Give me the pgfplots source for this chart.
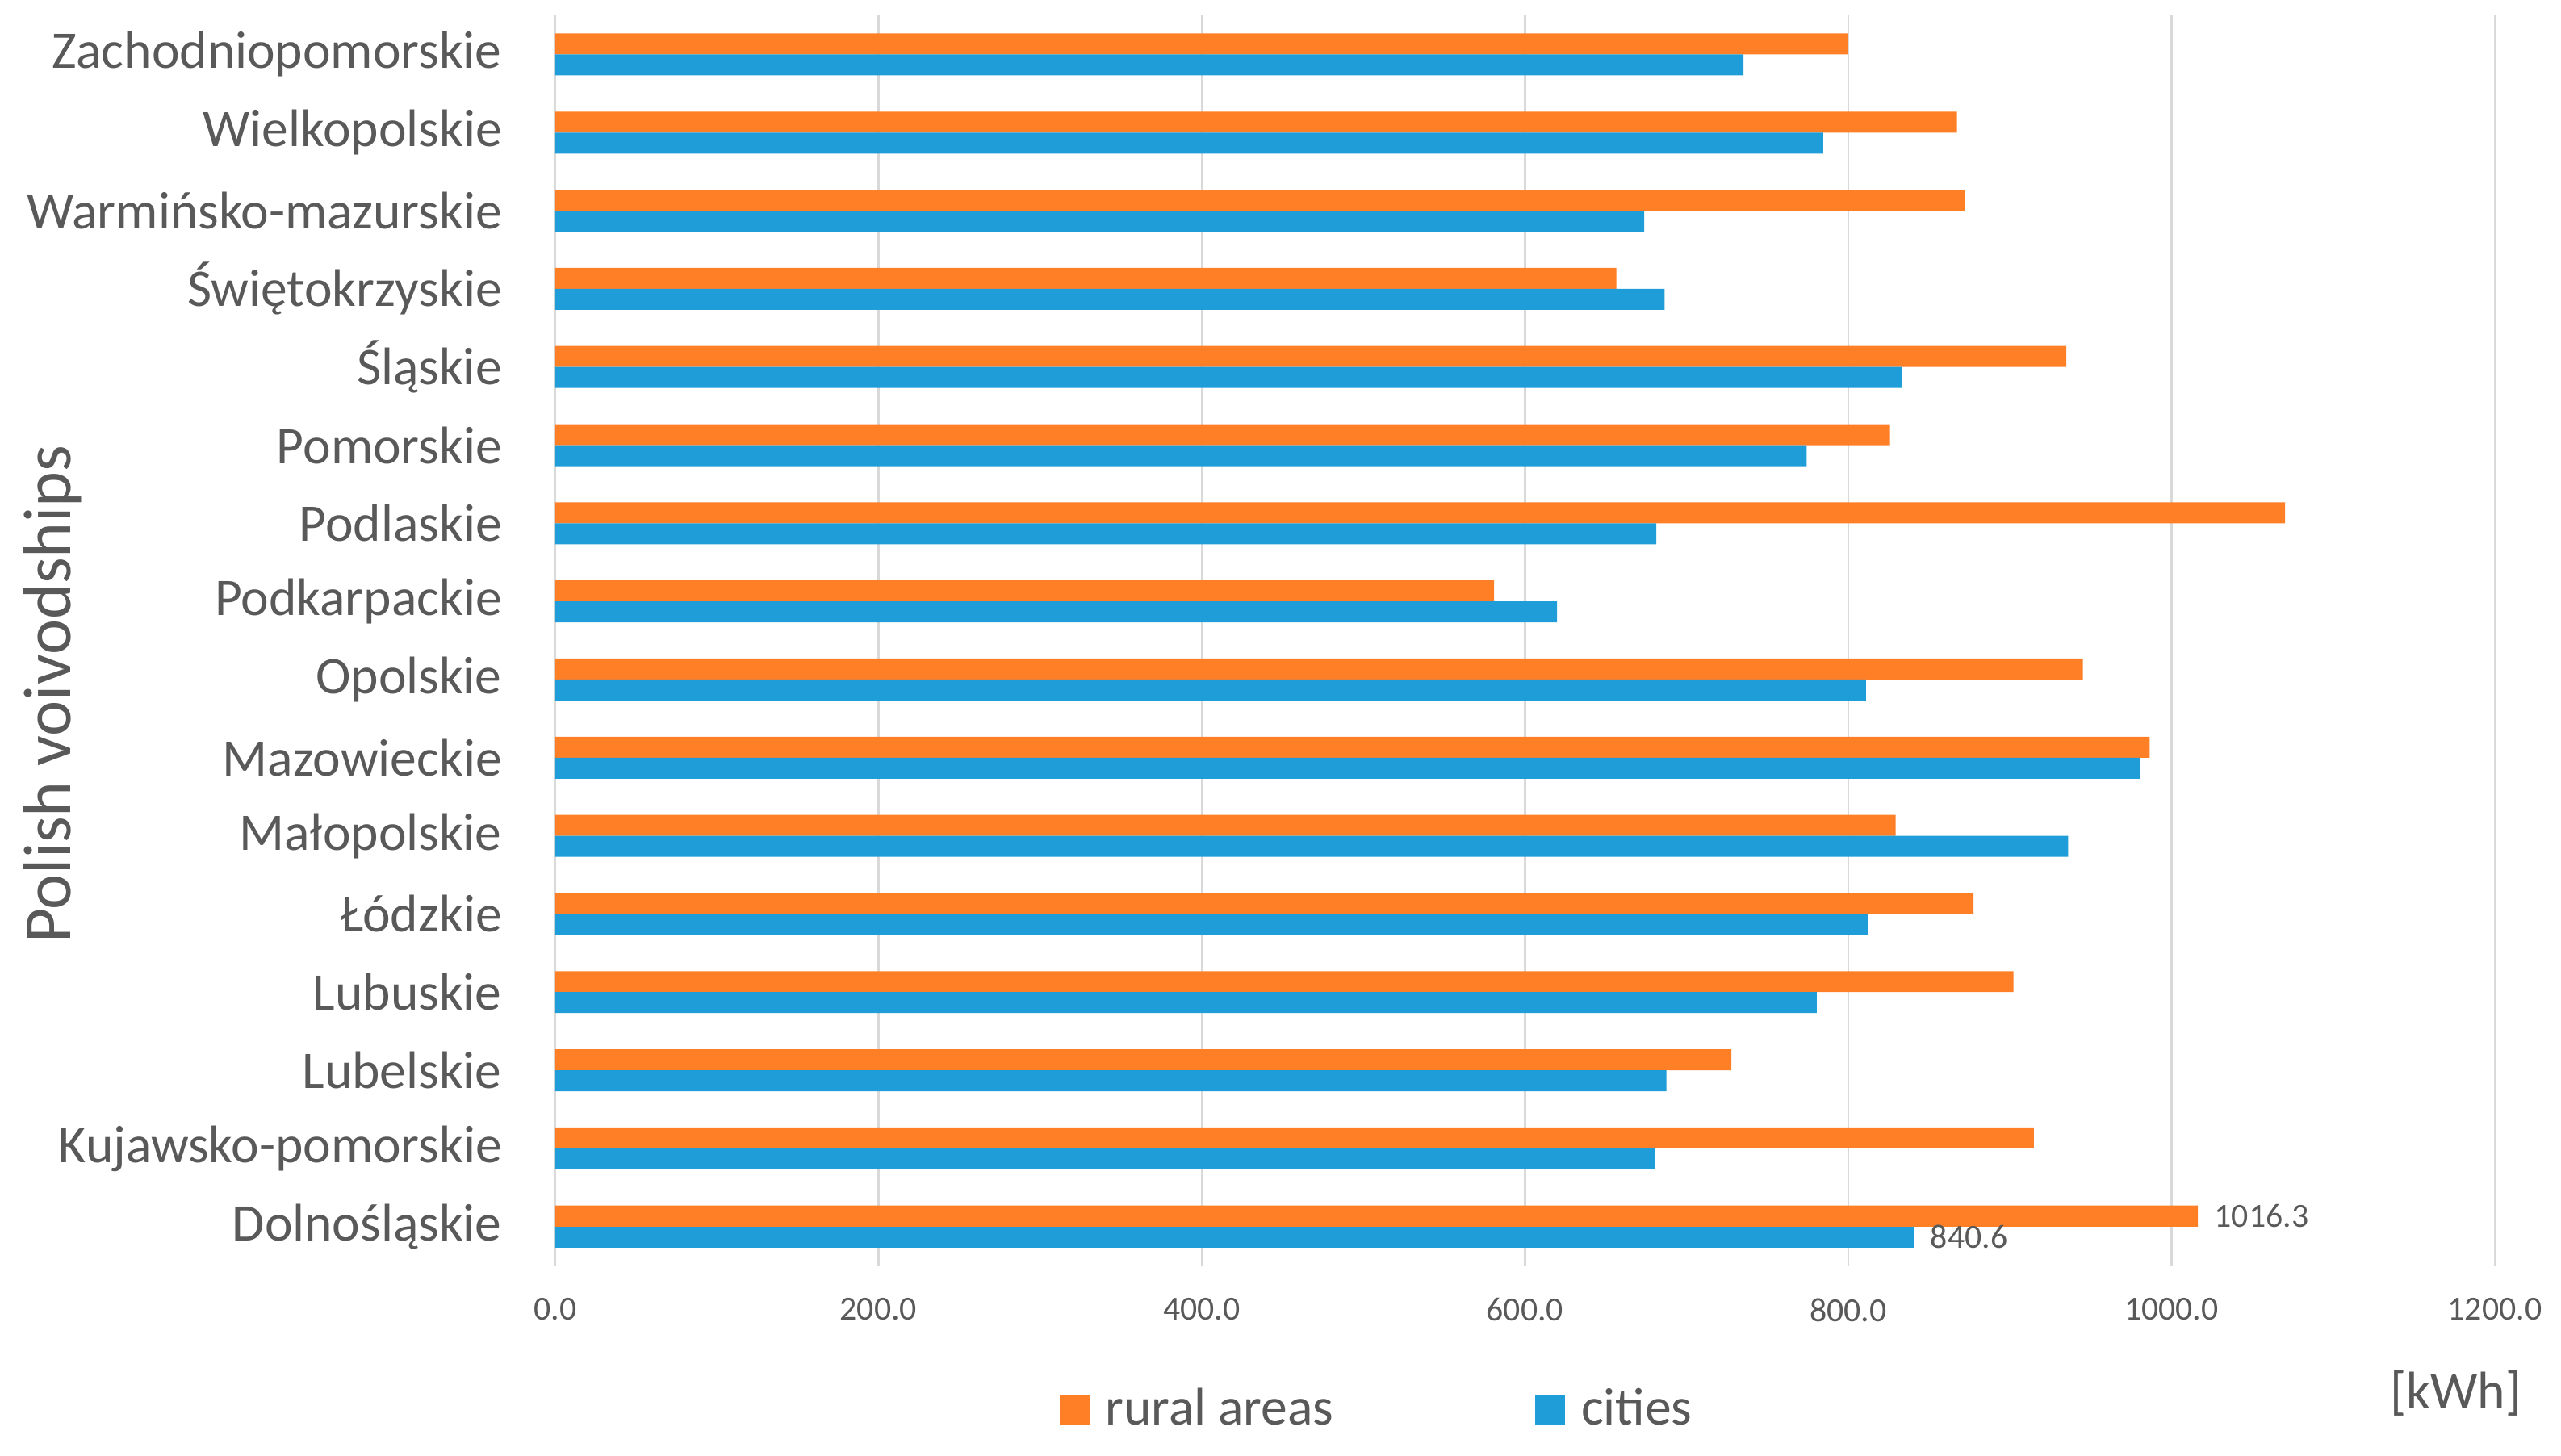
\documentclass[border=0pt]{standalone}
\usepackage{fontspec}
\setmainfont{Carlito}
\usepackage{pgfplots}
\usepackage{pgfplotstable}
\pgfplotsset{compat=1.18}

\definecolor{rural}{HTML}{FF7F27}
\definecolor{city}{HTML}{1E9DD8}
\definecolor{txt}{HTML}{595959}
\definecolor{grd}{HTML}{D9D9D9}

% y index: 0 = Dolnośląskie (bottom) ... 15 = Zachodniopomorskie (top)
\pgfplotstableread{
idx rural  cities
0   1016.3 840.6
1   914.8  680.1
2   727.7  687.5
3   902.2  780.5
4   877.5  812.1
5   829.3  936.0
6   986.5  980.2
7   945.2  810.9
8   580.8  619.8
9   1070.3 681.2
10  825.8  774.2
11  934.9  833.3
12  656.5  686.4
13  872.3  673.8
14  867.2  784.5
15  799.4  735.2
}\energy

\begin{document}
\begin{tikzpicture}
\path[use as bounding box] (0,0) rectangle (16cm,9.092cm);
\begin{axis}[
    at={(3.469cm,1.185cm)}, anchor=south west,
    scale only axis, width=12.117cm, height=7.811cm,
    xbar, bar width=0.131cm,
    xmin=0, xmax=1200, ymin=-0.5, ymax=15.5,
    xtick={0,200,...,1200},
    ytick={0,...,15},
    yticklabels={Dolnośląskie,Kujawsko-pomorskie,Lubelskie,Lubuskie,Łódzkie,Małopolskie,Mazowieckie,Opolskie,Podkarpackie,Podlaskie,Pomorskie,Śląskie,Świętokrzyskie,Warmińsko-mazurskie,Wielkopolskie,Zachodniopomorskie},
    xmajorgrids, major grid style={draw=grd, line width=0.4pt},
    axis line style={draw=none},
    major tick length=0pt,
    /pgf/number format/assume math mode=true,
    xticklabel style={font=\fontsize{6}{7}\selectfont, text=txt, yshift=-0.08cm,
        /pgf/number format/.cd, fixed, fixed zerofill, precision=1, 1000 sep={}},
    yticklabel style={font=\fontsize{9.4}{11}\selectfont, text=txt, xshift=-0.21cm},
    ylabel={Polish voivodships},
    ylabel style={at={(axis description cs:-0.259,0.457)}, anchor=center, rotate=0,
        font=\fontsize{12}{14}\selectfont, text=txt},
    legend columns=2,
    legend style={at={(axis description cs:0.426,-0.116)}, anchor=center, draw=none,
        font=\fontsize{9.4}{11}\selectfont, text=txt,
        /tikz/every odd column/.append style={column sep=0.03cm},
        /tikz/every even column/.append style={column sep=1.19cm}},
    legend image code/.code={\fill[#1] (0cm,-0.093cm) rectangle (0.186cm,0.093cm);},
    clip=false,
]
\addplot[fill=rural, draw=none, bar shift=0.0655cm] table[x=rural, y=idx] {\energy};
\addlegendentry{rural areas}
\addplot[fill=city, draw=none, bar shift=-0.0655cm] table[x=cities, y=idx] {\energy};
\addlegendentry{cities}

% value labels for Dolnośląskie
\addplot[fill=rural, draw=none, bar shift=0.0655cm, forget plot, point meta=x,
    nodes near coords, nodes near coords align={horizontal},
    every node near coord/.append style={font=\fontsize{6}{7}\selectfont, text=txt, anchor=west, xshift=-0.02cm,
        /pgf/number format/.cd, fixed, fixed zerofill, precision=1, 1000 sep={}}]
    coordinates {(1016.3,0)};
\addplot[fill=city, draw=none, bar shift=-0.0655cm, forget plot, point meta=x,
    nodes near coords, nodes near coords align={horizontal},
    every node near coord/.append style={font=\fontsize{6}{7}\selectfont, text=txt, anchor=west, xshift=-0.02cm,
        /pgf/number format/.cd, fixed, fixed zerofill, precision=1, 1000 sep={}}]
    coordinates {(840.6,0)};

\node[font=\fontsize{9.4}{11}\selectfont, text=txt] at (axis description cs:0.980,-0.102) {[kWh]};
\end{axis}
\end{tikzpicture}
\end{document}
